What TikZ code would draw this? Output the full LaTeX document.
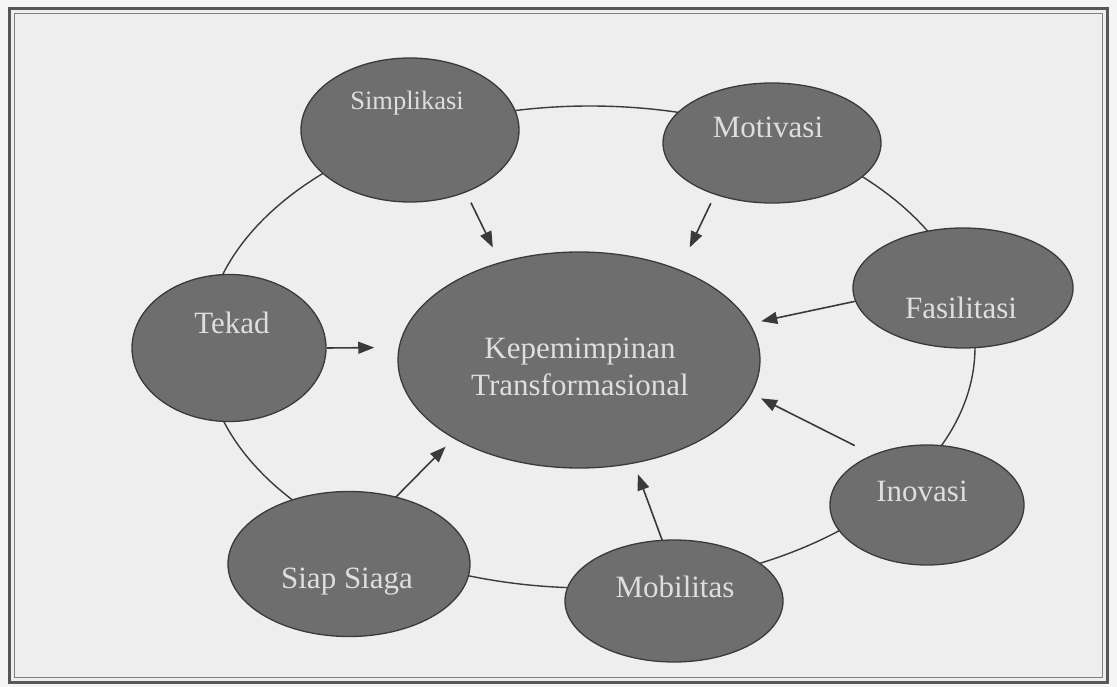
\documentclass[tikz,border=0pt]{standalone}
\usepackage{fontspec}
\setmainfont{Liberation Serif}
\usetikzlibrary{arrows.meta,shapes.geometric}
\definecolor{darkgrey}{HTML}{3A3A3A}
\definecolor{bubblegrey}{HTML}{6E6E6E}
\definecolor{paper}{HTML}{EEEEEE}
\definecolor{inkgrey}{HTML}{DEDEDE}

\begin{document}
\begin{tikzpicture}[x=1pt,y=-1pt,
	bubble/.style={ellipse,draw=darkgrey,line width=1.3pt,fill=bubblegrey,inner sep=0pt,outer sep=0pt},
	ring/.style={ellipse,draw=darkgrey,line width=1.4pt,inner sep=0pt,outer sep=0pt},
	lbl/.style={anchor=base,text=inkgrey,inner sep=0pt,font=\fontsize{31}{37}\selectfont},
	arr/.style={-{Triangle[length=16pt,width=12pt]},draw=darkgrey,line width=1.6pt}
	]
	\useasboundingbox (0,0) rectangle (1117,687);
	\fill[white!96!black] (0,0) rectangle (1117,687);
	% frame
	\fill[paper] (9,9) rectangle (1107,682);
	\draw[line width=3pt,darkgrey!85] (9,9) rectangle (1107,682);
	\draw[line width=1pt,gray] (14,14) rectangle (1102,677);
	% ring behind the bubbles
	\node[ring,minimum width=770pt,minimum height=482pt] (ring) at (590,347) {};
	% bubbles
	\node[bubble,minimum width=218pt,minimum height=144pt] (simp) at (410,130) {};
	\node[bubble,minimum width=218pt,minimum height=120pt] (moti) at (772,143) {};
	\node[bubble,minimum width=220pt,minimum height=120pt] (fasi) at (963,288) {};
	\node[bubble,minimum width=194pt,minimum height=120pt] (inov) at (927,505) {};
	\node[bubble,minimum width=218pt,minimum height=122pt] (mobi) at (674,601) {};
	\node[bubble,minimum width=242pt,minimum height=145pt] (siap) at (349,564) {};
	\node[bubble,minimum width=194pt,minimum height=147pt] (tekad) at (229,348) {};
	\node[bubble,minimum width=362pt,minimum height=216pt] (kep) at (579,360) {};
	% texts
	\node[lbl,font=\fontsize{26.5}{32}\selectfont] (simpT) at (407,110) {Simplikasi};
	\node[lbl] (motiT) at (768,138) {Motivasi};
	\node[lbl] (fasiT) at (961,318) {Fasilitasi};
	\node[lbl] (inovT) at (922,501) {Inovasi};
	\node[lbl] (mobiT) at (675,597) {Mobilitas};
	\node[lbl] (siapT) at (347,588) {Siap Siaga};
	\node[lbl] (tekadT) at (232,334) {Tekad};
	\node[lbl,align=center] (kepT) at (580,395) {Kepemimpinan\\Transformasional};
	% arrows
	\draw[arr,shorten <=12pt,shorten >=17pt] (simp.-48) -- (kep.129);
	\draw[arr,shorten <=10pt,shorten >=25pt] (moti.222) -- (kep.42);
	\draw[arr,shorten <=1pt,shorten >=12pt] (fasi.187) -- (kep.12);
	\draw[arr,shorten <=21pt,shorten >=11pt] (inov.137) -- (kep.-11);
	\draw[arr,shorten >=12pt] (mobi.101) -- (kep.-62);
	\draw[arr,shorten >=12pt] (siap.55) -- (kep.212);
	\draw[arr,shorten <=1pt,shorten >=25pt] (tekad.0) -- (kep.176);
\end{tikzpicture}
\end{document}
